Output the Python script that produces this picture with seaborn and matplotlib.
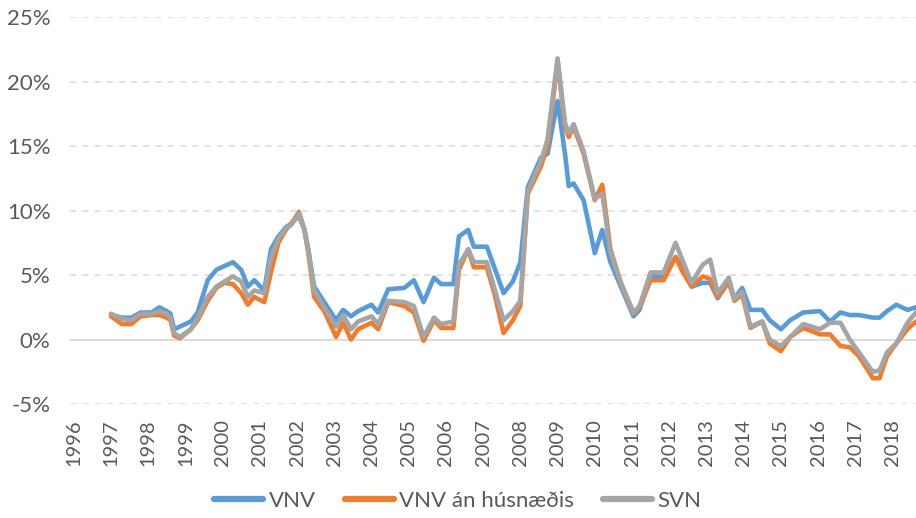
import matplotlib
matplotlib.use("Agg")
import matplotlib.pyplot as plt
import pandas as pd
import seaborn as sns
from matplotlib.lines import Line2D

sns.set_theme(style="white")
plt.rcParams['font.family'] = ['Lato', 'DejaVu Sans']

# Data (year fraction, % change)
ar = [1997.0, 1997.15, 1997.3, 1997.55, 1997.8, 1998.1, 1998.3, 1998.5, 1998.6, 1998.7,
      1998.85, 1999.15, 1999.33, 1999.6, 1999.83, 2000.05, 2000.28, 2000.5, 2000.68, 2000.85,
      2001.12, 2001.3, 2001.5, 2001.7, 2001.85, 2002.05, 2002.2, 2002.3, 2002.46, 2002.73,
      2003.05, 2003.24, 2003.45, 2003.64, 2004.0, 2004.18, 2004.45, 2004.88, 2005.14, 2005.4,
      2005.68, 2005.87, 2006.2, 2006.35, 2006.6, 2006.75, 2007.1, 2007.3, 2007.55, 2007.8,
      2008.0, 2008.2, 2008.55, 2008.73, 2009.0, 2009.2, 2009.3, 2009.43, 2009.7, 2010.0,
      2010.2, 2010.42, 2010.7, 2011.04, 2011.2, 2011.5, 2011.85, 2012.17, 2012.35, 2012.6,
      2012.9, 2013.1, 2013.3, 2013.6, 2013.75, 2013.96, 2014.18, 2014.5, 2014.7, 2015.0,
      2015.25, 2015.6, 2016.05, 2016.32, 2016.6, 2016.85, 2017.1, 2017.47, 2017.65, 2017.85,
      2018.1, 2018.4, 2018.63]

vnv = [1.9, 1.8, 1.7, 1.7, 2.1, 2.1, 2.5, 2.2, 2.0, 0.8,
       1.0, 1.4, 2.1, 4.6, 5.4, 5.7, 6.0, 5.4, 4.1, 4.6,
       3.8, 7.0, 8.0, 8.7, 9.0, 9.6, 8.5, 7.0, 4.1, 2.9,
       1.5, 2.3, 1.8, 2.2, 2.7, 2.1, 3.9, 4.0, 4.6, 2.9,
       4.8, 4.3, 4.3, 8.0, 8.5, 7.2, 7.2, 5.6, 3.6, 4.5,
       6.0, 11.8, 14.1, 14.4, 18.5, 14.4, 11.9, 12.1, 10.8, 6.7,
       8.5, 6.0, 4.1, 1.8, 2.3, 5.0, 4.8, 6.4, 5.6, 4.1,
       4.4, 4.4, 3.2, 4.5, 3.2, 4.0, 2.3, 2.3, 1.5, 0.8,
       1.5, 2.1, 2.2, 1.4, 2.1, 1.9, 1.9, 1.7, 1.7, 2.2,
       2.7, 2.3, 2.5]

vnv_an = [1.8, 1.5, 1.2, 1.2, 1.8, 1.9, 1.9, 1.7, 1.5, 0.3,
          0.1, 0.8, 1.5, 3.0, 4.0, 4.4, 4.3, 3.6, 2.7, 3.3,
          2.9, 5.2, 7.5, 8.5, 9.0, 9.9, 8.5, 6.8, 3.3, 2.2,
          0.2, 1.3, 0.0, 0.8, 1.3, 0.8, 2.9, 2.6, 2.1, -0.1,
          1.5, 0.9, 0.9, 5.4, 7.0, 5.6, 5.6, 3.6, 0.5, 1.5,
          2.6, 11.3, 13.4, 15.0, 21.6, 16.5, 15.7, 16.5, 14.4, 10.8,
          12.0, 7.0, 4.4, 2.0, 2.5, 4.6, 4.6, 6.4, 5.3, 4.1,
          4.9, 4.7, 3.3, 4.5, 3.0, 3.5, 0.9, 1.4, -0.3, -0.9,
          0.2, 0.9, 0.4, 0.4, -0.5, -0.6, -1.3, -3.0, -3.0, -1.3,
          -0.3, 0.8, 1.4]

svn = [2.0, 1.8, 1.6, 1.5, 2.0, 2.0, 2.2, 2.0, 1.7, 0.5,
       0.2, 0.8, 1.7, 3.3, 4.1, 4.5, 4.9, 4.5, 3.3, 3.8,
       3.6, 6.4, 7.8, 8.6, 8.9, 9.8, 8.5, 7.0, 3.8, 2.5,
       1.0, 1.9, 0.8, 1.4, 1.8, 1.2, 3.0, 2.9, 2.6, 0.2,
       1.7, 1.2, 1.4, 5.8, 7.0, 6.0, 6.0, 4.0, 1.5, 2.2,
       3.0, 11.5, 13.8, 15.5, 21.8, 16.8, 16.0, 16.7, 14.6, 10.9,
       11.3, 6.8, 4.4, 2.1, 2.6, 5.2, 5.2, 7.5, 6.2, 4.4,
       5.8, 6.2, 3.6, 4.8, 3.1, 3.7, 1.0, 1.4, 0.0, -0.5,
       0.2, 1.2, 0.8, 1.3, 1.3, 0.0, -1.0, -2.5, -2.4, -1.0,
       -0.3, 1.3, 2.1]

series = ["VNV", "VNV án húsnæðis", "SVN"]
palette = {"VNV": "#5B9BD5", "VNV án húsnæðis": "#ED7D31", "SVN": "#A5A5A5"}
text_color = "#595959"
grid_color = "#D9D9D9"

df = pd.DataFrame({"ár": ar, "VNV": vnv, "VNV án húsnæðis": vnv_an, "SVN": svn})
long_df = df.melt(id_vars="ár", var_name="röð", value_name="gildi")

fig = plt.figure(figsize=(9.16, 5.18), dpi=100)
ax = fig.add_axes([0.0764, 0.22, 0.9236, 0.747])

sns.lineplot(data=long_df, x="ár", y="gildi", hue="röð", hue_order=series,
             palette=palette, linewidth=3.3, ax=ax, legend=False)

# Gridlines: dashed, except a solid zero line
yticks = list(range(-5, 30, 5))
for v in yticks:
    if v == 0:
        ax.axhline(v, color=grid_color, linewidth=1.3, zorder=0.5)
    else:
        ax.axhline(v, color=grid_color, linewidth=1.1, linestyle=(0, (4, 4)), zorder=0.5)

ax.set_ylim(-5, 25)
ax.set_xlim(1995.9, 2018.63)
ax.set_yticks(yticks)
ax.set_yticklabels([f"{v}%" for v in yticks])
years = list(range(1996, 2019))
ax.set_xticks(years)
ax.set_xticklabels([str(y) for y in years], rotation=90)
ax.tick_params(axis="both", length=0, colors=text_color)
ax.tick_params(axis="x", pad=11, labelsize=14.5)
ax.tick_params(axis="y", pad=14, labelsize=16)
ax.set_xlabel("")
ax.set_ylabel("")
for s in ax.spines.values():
    s.set_visible(False)

handles = [Line2D([0], [0], color=palette[s], linewidth=4.5) for s in series]
leg = fig.legend(handles, series, loc="lower center", bbox_to_anchor=(0.5, -0.025),
                 ncol=3, frameon=False, fontsize=16, handlelength=2.2,
                 handletextpad=0.25, columnspacing=1.3)
for t in leg.get_texts():
    t.set_color(text_color)

fig.savefig("out.png", dpi=100)
